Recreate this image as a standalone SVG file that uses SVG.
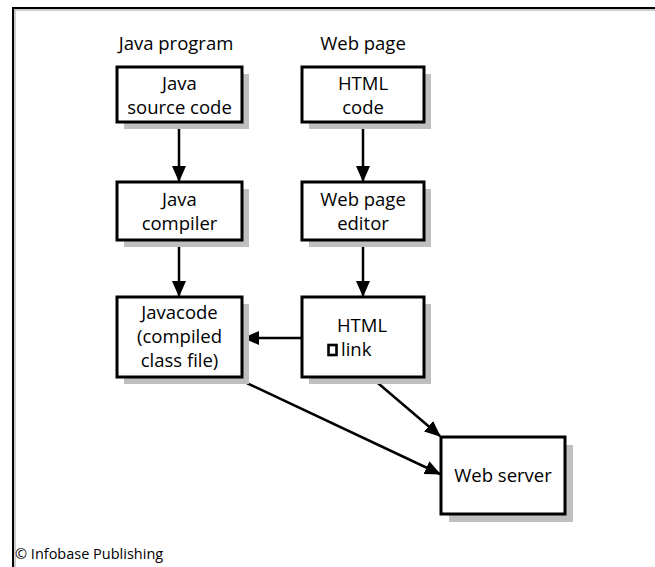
<svg xmlns="http://www.w3.org/2000/svg" width="655" height="567" viewBox="0 0 655 567">
<defs>
<style>
text{font-family:"Open Sans","Noto Sans","Liberation Sans",sans-serif;font-size:18.5px;fill:#000;text-anchor:middle}
.box{fill:#fff;stroke:#000;stroke-width:3}
.sh{fill:#bfbfbf}
.ln{stroke:#000;stroke-width:2.5;fill:none}
.cr{font-size:14.5px;text-anchor:start}
</style>
<marker id="ah2" markerWidth="16" markerHeight="14" refX="15" refY="7" orient="auto" markerUnits="userSpaceOnUse" viewBox="0 0 16 14">
<path d="M0,0 L16,7 L0,14 z" fill="#000"/>
</marker>
</defs>
<rect width="655" height="567" fill="#fff"/>
<g id="frame">
<line x1="14" y1="10" x2="655" y2="10" stroke="#bdbdbd" stroke-width="1.5"/>
<line x1="15" y1="9" x2="15" y2="567" stroke="#bdbdbd" stroke-width="1.5"/>
<line x1="13" y1="8" x2="655" y2="8" stroke="#000" stroke-width="2"/>
<line x1="13" y1="7" x2="13" y2="567" stroke="#000" stroke-width="2"/>
</g>
<text x="176" y="50">Java program</text>
<text x="363" y="50">Web page</text>
<g id="connectors">
<line class="ln" x1="179" y1="124" x2="179" y2="181" marker-end="url(#ah2)"/>
<line class="ln" x1="179" y1="241" x2="179" y2="296" marker-end="url(#ah2)"/>
<line class="ln" x1="363" y1="124" x2="363" y2="181" marker-end="url(#ah2)"/>
<line class="ln" x1="363" y1="241" x2="363" y2="296" marker-end="url(#ah2)"/>
<line class="ln" x1="301" y1="338" x2="244" y2="338" marker-end="url(#ah2)"/>
<line class="ln" x1="236" y1="378" x2="440" y2="474" marker-end="url(#ah2)"/>
<line class="ln" x1="372" y1="378" x2="440" y2="436" marker-end="url(#ah2)"/>
</g>
<g id="java-source">
<rect class="sh" x="124" y="74" width="125" height="55"/>
<rect class="box" x="117" y="67" width="125" height="55"/>
<text x="179.5" y="90">Java</text>
<text x="179.5" y="114">source code</text>
</g>
<g id="html-code">
<rect class="sh" x="309" y="74" width="122" height="55"/>
<rect class="box" x="302" y="67" width="122" height="55"/>
<text x="363" y="90">HTML</text>
<text x="363" y="114">code</text>
</g>
<g id="java-compiler">
<rect class="sh" x="124" y="189" width="125" height="58"/>
<rect class="box" x="117" y="182" width="125" height="58"/>
<text x="179.5" y="206">Java</text>
<text x="179.5" y="230">compiler</text>
</g>
<g id="web-page-editor">
<rect class="sh" x="309" y="189" width="122" height="58"/>
<rect class="box" x="302" y="182" width="122" height="58"/>
<text x="363" y="206">Web page</text>
<text x="363" y="230">editor</text>
</g>
<g id="javacode">
<rect class="sh" x="124" y="304" width="125" height="80"/>
<rect class="box" x="117" y="297" width="125" height="80"/>
<text x="179.5" y="319">Javacode</text>
<text x="179.5" y="343">(compiled</text>
<text x="179.5" y="367">class file)</text>
</g>
<g id="html-link">
<rect class="sh" x="309" y="304" width="122" height="80"/>
<rect class="box" x="302" y="297" width="122" height="80"/>
<text x="362" y="332">HTML</text>
<rect x="328.5" y="345" width="8" height="10" fill="none" stroke="#000" stroke-width="2.6"/>
<text x="341" y="356" style="text-anchor:start">link</text>
</g>
<g id="web-server">
<rect class="sh" x="449" y="445" width="124" height="77"/>
<rect class="box" x="441" y="437" width="124" height="77"/>
<text x="503" y="482">Web server</text>
</g>
<text class="cr" x="15" y="559">© Infobase Publishing</text>
</svg>
